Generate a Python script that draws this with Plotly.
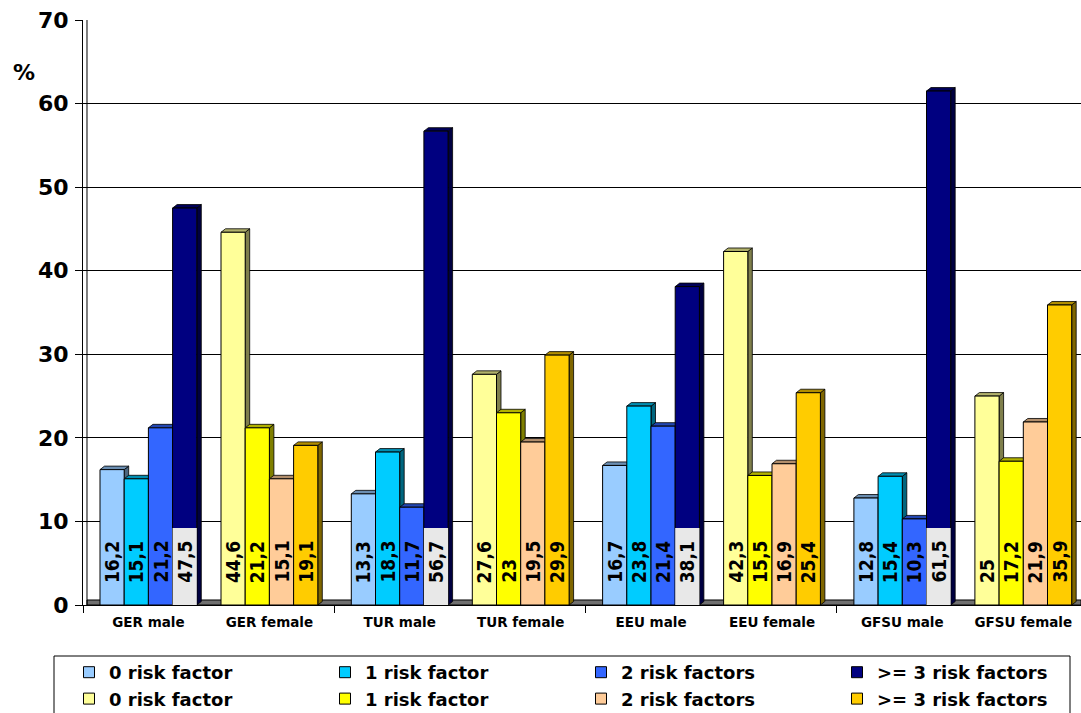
import plotly.graph_objects as go

# ---------------- data ----------------
countries = ["GER", "TUR", "EEU", "GFSU"]
risk_labels = ["0 risk factor", "1 risk factor", "2 risk factors", ">= 3 risk factors"]

male_0 = [16.2, 13.3, 16.7, 12.8]
male_1 = [15.1, 18.3, 23.8, 15.4]
male_2 = [21.2, 11.7, 21.4, 10.3]
male_3 = [47.5, 56.7, 38.1, 61.5]

female_0 = [44.6, 27.6, 42.3, 25.0]
female_1 = [21.2, 23.0, 15.5, 17.2]
female_2 = [15.1, 19.5, 16.9, 21.9]
female_3 = [19.1, 29.9, 25.4, 35.9]

male_colors = ["#99CCFF", "#00CCFF", "#3366FF", "#000080"]
female_colors = ["#FFFF99", "#FFFF00", "#FFCC99", "#FFCC00"]

male_series = [male_0, male_1, male_2, male_3]
female_series = [female_0, female_1, female_2, female_3]

# ---------------- layout constants ----------------
W, H = 1081, 713
M_L, M_T, M_B, M_R = 83, 20, 108, 0
PLOT_W = W - M_L - M_R
PLOT_H = H - M_T - M_B
CLUSTER_PX = 251.3
X_MIN = -0.5
X_MAX = X_MIN + PLOT_W / CLUSTER_PX
Y_MAX = 70
PX_PER_Y = PLOT_H / Y_MAX

LEAD = 17 / CLUSTER_PX          # space before first bar of a cluster
SLOT = 24.2 / CLUSTER_PX        # width of one bar
DX = 4.5 / CLUSTER_PX           # 3D depth, horizontal
DY = 3.5 / PX_PER_Y             # 3D depth, vertical
LABEL_BOX_H = 9.2               # height of grey label box on the dark bars

FONT = "DejaVu Sans"
LABEL_FONT = "Liberation Sans Narrow, DejaVu Sans Condensed, Liberation Sans"


def px_x(px):
    return (px - M_L) / PLOT_W


def px_y(py):
    return (H - M_B - py) / PLOT_H


def shade(hexcol, f):
    hexcol = hexcol.lstrip("#")
    r, g, b = (int(hexcol[i:i + 2], 16) for i in (0, 2, 4))
    return "#%02X%02X%02X" % (int(r * f), int(g * f), int(b * f))


fig = go.Figure()
shapes = []
annotations = []

xs = list(range(len(countries)))


def add_group(series_list, colors, slot0, group_name):
    for k, (vals, col) in enumerate(zip(series_list, colors)):
        off = X_MIN + LEAD + (slot0 + k) * SLOT
        fig.add_trace(go.Bar(
            x=xs, y=vals, offset=off, width=SLOT,
            marker=dict(color=col, line=dict(color="black", width=1)),
            showlegend=False, hoverinfo="y", name=f"{group_name} {risk_labels[k]}",
        ))
        for j, v in zip(xs, vals):
            x0 = j + off
            x1 = x0 + SLOT
            # side face
            shapes.append(dict(
                type="path", xref="x", yref="y", layer="between",
                path=f"M {x1},0 L {x1+DX},{DY} L {x1+DX},{v+DY} L {x1},{v} Z",
                fillcolor=shade(col, 0.5), line=dict(color="black", width=0.8)))
            # top face
            shapes.append(dict(
                type="path", xref="x", yref="y", layer="between",
                path=f"M {x0},{v} L {x0+DX},{v+DY} L {x1+DX},{v+DY} L {x1},{v} Z",
                fillcolor=shade(col, 0.7), line=dict(color="black", width=0.8)))
            txt = f"{v:g}".replace(".", ",")
            annotations.append(dict(
                x=x0 + SLOT / 2, y=0, xref="x", yref="y",
                text=txt, showarrow=False, textangle=-90,
                xanchor="center", yanchor="bottom", yshift=20,
                font=dict(family=LABEL_FONT, size=19, color="black", weight="bold")))
        if k == 3 and group_name == "male":
            # grey label box over the base of the darkest bars
            fig.add_trace(go.Bar(
                x=xs, y=[LABEL_BOX_H] * len(xs), offset=off, width=SLOT,
                marker=dict(color="#E8E8E8", line=dict(color="#E8E8E8", width=0)),
                showlegend=False, hoverinfo="skip",
            ))


add_group(male_series, male_colors, 0, "male")
add_group(female_series, female_colors, 5, "female")

# legend entries
for k in range(4):
    fig.add_trace(go.Scatter(
        x=[None], y=[None], mode="markers", name=risk_labels[k],
        marker=dict(symbol="square", size=11, color=male_colors[k],
                    line=dict(color="black", width=1))))
for k in range(4):
    fig.add_trace(go.Scatter(
        x=[None], y=[None], mode="markers", name=risk_labels[k],
        marker=dict(symbol="square", size=11, color=female_colors[k],
                    line=dict(color="black", width=1))))

# floor band
shapes.insert(0, dict(type="rect", xref="paper", yref="y", layer="between",
                      x0=0.004, x1=1, y0=0, y1=0.6,
                      fillcolor="#707070", line=dict(color="black", width=1)))
# back wall inner line
shapes.append(dict(type="line", xref="paper", yref="paper", layer="between",
                   x0=0.004, x1=0.004, y0=0, y1=1,
                   line=dict(color="black", width=1)))
# legend frame
shapes.append(dict(type="rect", xref="paper", yref="paper", layer="above",
                   x0=px_x(54), x1=px_x(1070), y0=px_y(730), y1=px_y(656),
                   line=dict(color="black", width=1), fillcolor="rgba(0,0,0,0)"))

annotations.append(dict(x=px_x(24), y=px_y(72), xref="paper", yref="paper",
                        xanchor="center", yanchor="middle",
                        text="%", showarrow=False,
                        font=dict(family=FONT, size=22, color="black", weight="bold")))

# category tick positions: centre of each half cluster
tickvals, ticktext = [], []
for j, c in enumerate(countries):
    tickvals.append(j + X_MIN + LEAD + 2 * SLOT)
    ticktext.append(f"{c} male")
    tickvals.append(j + X_MIN + LEAD + 7 * SLOT)
    ticktext.append(f"{c} female")

fig.update_layout(
    width=W, height=H,
    margin=dict(l=M_L, r=M_R, t=M_T, b=M_B, autoexpand=False),
    paper_bgcolor="white", plot_bgcolor="white",
    barmode="overlay",
    shapes=shapes, annotations=annotations,
    showlegend=True,
    legend=dict(orientation="h", x=px_x(69), xanchor="left", y=px_y(654), yanchor="top",
                borderwidth=0, bgcolor="rgba(0,0,0,0)",
                entrywidth=211, entrywidthmode="pixels",
                font=dict(family=FONT, size=18, color="black", weight="bold"),
                traceorder="normal"),
    xaxis=dict(range=[X_MIN, X_MAX], tickvals=tickvals, ticktext=ticktext,
               ticks="", showgrid=False, zeroline=False,
               showline=True, linecolor="black", linewidth=1,
               tickfont=dict(family=FONT, size=13.5, color="black", weight="bold"),
               ticklabelstandoff=5,
               minor=dict(tickvals=[j - 0.5 for j in range(len(countries) + 1)],
                          ticks="outside", ticklen=7, tickcolor="black", showgrid=False)),
    yaxis=dict(range=[0, Y_MAX], dtick=10, showgrid=True, gridcolor="black", gridwidth=1,
               zeroline=False, showline=True, linecolor="black", linewidth=1,
               ticks="outside", ticklen=7, tickcolor="black",
               tickfont=dict(family=FONT, size=22, color="black", weight="bold"),
               ticklabelstandoff=2),
)

fig.write_html("out.html")
